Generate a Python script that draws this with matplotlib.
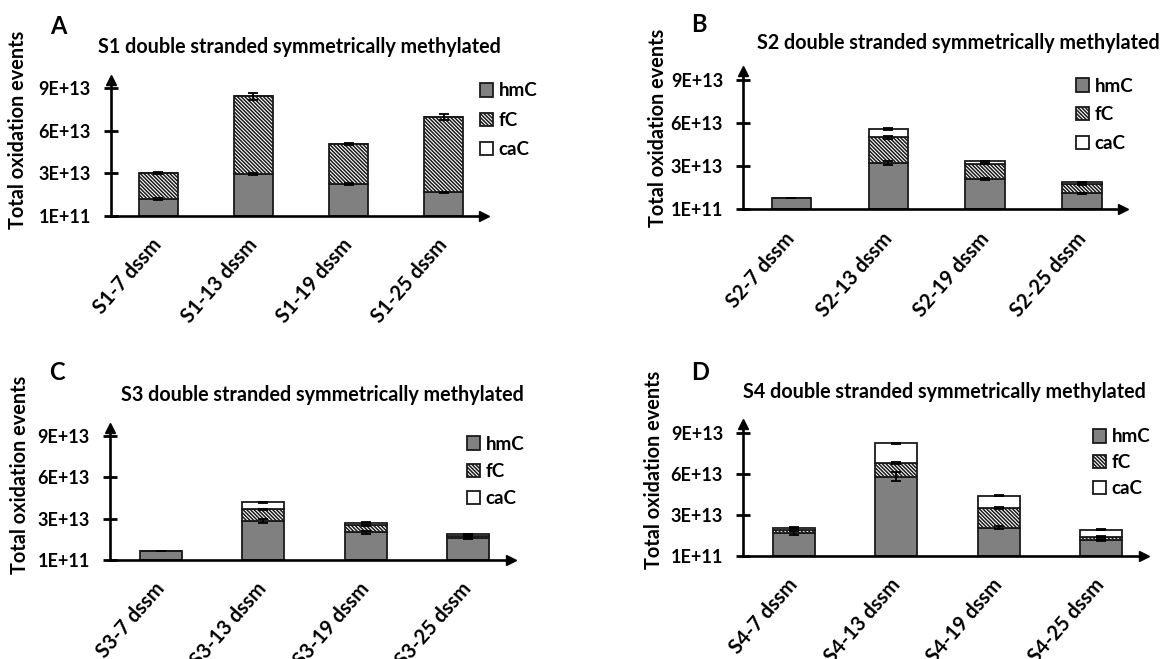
import matplotlib
matplotlib.use('Agg')
import matplotlib.pyplot as plt
import numpy as np

plt.rcParams['font.family'] = ['Lato', 'DejaVu Sans']
plt.rcParams['font.weight'] = 'bold'
plt.rcParams['hatch.linewidth'] = 1.1

# ── Data (units of 1E+13 oxidation events) ──
samples = ['S1', 'S2', 'S3', 'S4']
days = ['7', '13', '19', '25']
letters = ['A', 'B', 'C', 'D']
ytick_values = [0.01, 3, 6, 9]
ytick_labels = ['1E+11', '3E+13', '6E+13', '9E+13']

hmc = [[1.18, 2.94, 2.24, 1.65],
       [0.79, 3.22, 2.11, 1.11],
       [0.65, 2.83, 2.03, 1.57],
       [1.64, 5.78, 2.05, 1.15]]
fc = [[1.85, 5.49, 2.80, 5.32],
      [0.00, 1.81, 1.06, 0.65],
      [0.00, 0.87, 0.51, 0.20],
      [0.24, 1.02, 1.46, 0.24]]
cac = [[0.00, 0.00, 0.00, 0.00],
       [0.00, 0.56, 0.19, 0.16],
       [0.00, 0.49, 0.17, 0.14],
       [0.17, 1.42, 0.88, 0.51]]

hmc_err = [[0.05, 0.08, 0.08, 0.05],
           [0.02, 0.15, 0.07, 0.04],
           [0.02, 0.12, 0.10, 0.05],
           [0.15, 0.33, 0.10, 0.08]]
fc_err = [[0.06, 0.25, 0.08, 0.22],
          [0.00, 0.10, 0.04, 0.03],
          [0.00, 0.04, 0.03, 0.03],
          [0.08, 0.07, 0.06, 0.04]]
cac_err = [[0.00, 0.00, 0.00, 0.00],
           [0.00, 0.06, 0.03, 0.02],
           [0.00, 0.03, 0.02, 0.02],
           [0.03, 0.04, 0.05, 0.03]]

# ── Layout in pixels: (axis x, baseline y, axis width, px per 1E13) ──
W, H = 1160, 659
panel_geom = [(110.7, 215.7, 373, 14.17),
              (743, 209.3, 380, 14.37),
              (110, 560, 401, 13.78),
              (743, 555.7, 401, 13.67)]
title_pos = [(299, 47), (958, 43), (322, 395), (944, 392)]
letter_pos = [(58, 26), (699, 25), (57, 372), (700, 372)]
ylabel_pos = [(18.5, 130), (658, 128), (20.5, 475), (654, 470)]
legend_pos = [(480, 82.5), (1076, 77.5), (467, 435.5), (1093, 428.5)]
legend_spacing = [0.65, 0.63, 0.55, 0.47]

GRAY = '#808080'
EDGE = '#1a1a1a'
HATCH = '\\' * 9

fig = plt.figure(figsize=(W / 100, H / 100), dpi=100)

for i in range(4):
    x0, base, wpx, ppu = panel_geom[i]
    ytop = 9.6
    ax = fig.add_axes([x0 / W, 1 - base / H, wpx / W, ytop * ppu / H])
    x = np.arange(4)
    h = np.array(hmc[i])
    f = np.array(fc[i])
    c = np.array(cac[i])
    bw = 0.41
    ax.bar(x, h, bw, color=GRAY, edgecolor=EDGE, lw=1.3, label='hmC', zorder=2)
    ax.bar(x, f, bw, bottom=h, color='white', edgecolor=EDGE, lw=1.3,
           hatch=HATCH, label='fC', zorder=2)
    ax.bar(x, c, bw, bottom=h + f, color='white', edgecolor=EDGE, lw=1.3,
           label='caC', zorder=2)

    for tops, errs in ((h, hmc_err[i]), (h + f, fc_err[i]), (h + f + c, cac_err[i])):
        errs = np.array(errs)
        m = errs > 0
        ax.errorbar(x[m], tops[m], yerr=errs[m], fmt='none', ecolor='black',
                    elinewidth=1.3, capsize=3.5, capthick=1.3, zorder=3)

    ax.set_xlim(-0.5, 3.42)
    ax.set_ylim(0.01, ytop)
    ax.set_yticks(ytick_values)
    ax.set_yticklabels(ytick_labels, fontsize=13, fontweight='bold')
    ax.set_xticks(x)
    ax.set_xticklabels([f'{samples[i]}-{d} dssm' for d in days], fontsize=14.5,
                       fontweight='bold', rotation=49, ha='right', va='center',
                       rotation_mode='anchor')
    ax.tick_params(axis='y', direction='inout', length=10, width=2, pad=9.4)
    ax.tick_params(axis='x', length=0, pad=18.5)
    for side in ('top', 'right'):
        ax.spines[side].set_visible(False)
    for side in ('left', 'bottom'):
        ax.spines[side].set_linewidth(1.9)
    ax.patch.set_visible(False)
    ax.plot(1, 0, '>', color='black', ms=7, transform=ax.transAxes, clip_on=False)
    ax.plot(0, 1, '^', color='black', ms=7, transform=ax.transAxes, clip_on=False)

    lx, ly = legend_pos[i]
    ax.legend(loc='upper left', bbox_to_anchor=(lx / W, 1 - ly / H),
              bbox_transform=fig.transFigure, frameon=False, fontsize=13.5,
              handlelength=0.7, handleheight=0.7, handletextpad=0.3,
              labelspacing=legend_spacing[i], borderpad=0, borderaxespad=0)

    tx, ty = title_pos[i]
    fig.text(tx / W, 1 - ty / H, f'{samples[i]} double stranded symmetrically methylated',
             ha='center', va='center', fontsize=14.2, fontweight='bold')
    lx, ly = letter_pos[i]
    fig.text(lx / W, 1 - ly / H, letters[i], ha='center', va='center',
             fontsize=17, fontweight='bold')
    yx, yy = ylabel_pos[i]
    fig.text(yx / W, 1 - yy / H, 'Total oxidation events', ha='center', va='center',
             rotation=90, fontsize=14.3, fontweight='bold')

fig.savefig('out.png', dpi=100, facecolor='white')
